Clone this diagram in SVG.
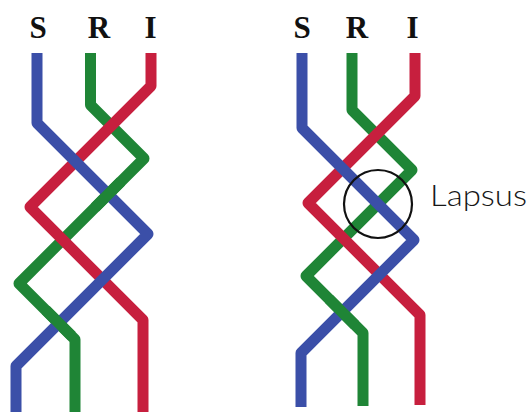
<svg xmlns="http://www.w3.org/2000/svg" width="532" height="412" viewBox="0 0 532 412">
  <style>
    .s { fill: none; stroke-width: 11; stroke-linejoin: round; stroke-linecap: butt; }
    .blue { stroke: #3b4fa8; }
    .green { stroke: #1f8536; }
    .red { stroke: #c71f3e; }
    .lbl { font-family: "Liberation Serif", "Times New Roman", serif; font-weight: bold; font-size: 31px; fill: #111; text-anchor: middle; }
    .note { font-family: Lato, "Open Sans", "Liberation Sans", sans-serif; font-weight: 300; font-size: 29px; fill: #161616; }
  </style>
  <rect width="532" height="412" fill="#ffffff"/>

  <g id="labels-left">
    <text class="lbl" x="38" y="38">S</text>
    <text class="lbl" x="99" y="38">R</text>
    <text class="lbl" x="150.5" y="38">I</text>
  </g>
  <g id="labels-right">
    <text class="lbl" x="302" y="38">S</text>
    <text class="lbl" x="357" y="38">R</text>
    <text class="lbl" x="412.5" y="38">I</text>
  </g>

  <g id="braid-left">
    <path class="s green" d="M90.5,53 V105 L144,158.5 L19,283.5 L75,339.5 V412"/>
    <path class="s red" d="M151,53 V86 L30,207 L143,320 V412"/>
    <path class="s blue" d="M37,53 V123 L148,234 L16,366 V412"/>
    <!-- green over blue crossings -->
    <path class="s green" d="M121,181.5 L95,207.5"/>
    <path class="s green" d="M45.75,310 L71.75,336"/>
  </g>

  <g id="braid-right">
    <path class="s green" d="M352,53 V110 L412,170 L306,276 L363,333 V406"/>
    <path class="s red" d="M415,53 V96 L308,203 L420,315 V405"/>
    <path class="s blue" d="M302,53 V128 L414,240 L301,353 V407"/>
    <!-- green over blue (lower crossing) -->
    <path class="s green" d="M329,299 L355,325"/>
  </g>

  <g id="lapsus">
    <circle cx="378" cy="204" r="34" fill="none" stroke="#111" stroke-width="2.2"/>
    <text class="note" x="430" y="206" textLength="97" lengthAdjust="spacingAndGlyphs">Lapsus</text>
  </g>
</svg>
